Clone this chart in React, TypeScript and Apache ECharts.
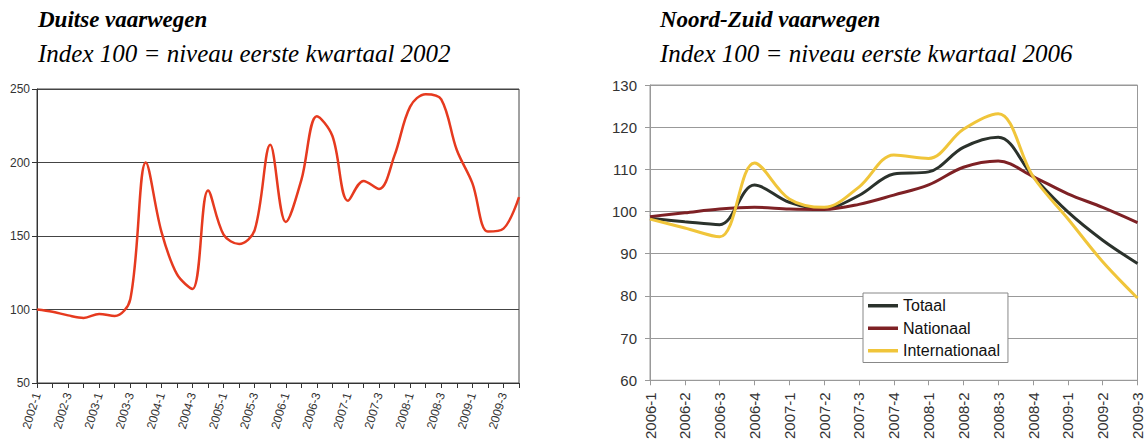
import { useEffect, useRef } from "react";
import * as echarts from "echarts";

const leftCategories = [
  "2002-1", "2002-2", "2002-3", "2002-4",
  "2003-1", "2003-2", "2003-3", "2003-4",
  "2004-1", "2004-2", "2004-3", "2004-4",
  "2005-1", "2005-2", "2005-3", "2005-4",
  "2006-1", "2006-2", "2006-3", "2006-4",
  "2007-1", "2007-2", "2007-3", "2007-4",
  "2008-1", "2008-2", "2008-3", "2008-4",
  "2009-1", "2009-2", "2009-3", "2009-4",
];
const duitseValues = [
  100, 98.5, 96, 94.3, 97, 95.5, 107, 200,
  153, 124, 114, 181, 151, 144.5, 154, 212,
  159.5, 188, 231.5, 218, 174, 187.5, 182, 205,
  238, 246.5, 243, 208.5, 186, 153, 155, 176.5,
];

const rightCategories = [
  "2006-1", "2006-2", "2006-3", "2006-4",
  "2007-1", "2007-2", "2007-3", "2007-4",
  "2008-1", "2008-2", "2008-3", "2008-4",
  "2009-1", "2009-2", "2009-3",
];
const totaal = [98.4, 97.6, 96.9, 106.3, 102.2, 100.7, 103.8, 108.9, 109.4, 115.2, 117.6, 108.3, 99.9, 93.2, 87.7];
const nationaal = [98.8, 99.7, 100.6, 101.0, 100.6, 100.5, 101.7, 103.9, 106.3, 110.5, 112.0, 108.3, 104.2, 101.0, 97.4];
const internationaal = [98.2, 96.1, 94.0, 111.5, 103.0, 101.0, 105.8, 113.4, 112.6, 119.5, 123.2, 108.3, 98.3, 88.1, 79.5];

const leftYTicks = { min: 50, max: 250, interval: 50 };
const rightYTicks = { min: 60, max: 130, interval: 10 };

export default function App() {
  const ref = useRef<HTMLDivElement>(null);
  useEffect(() => {
    const chart = echarts.init(ref.current!, null, { renderer: "svg" });
    const sans = "Liberation Sans";
    chart.setOption({
      animation: false,
      backgroundColor: "#fff",
      graphic: [
        { type: "text", left: 38, top: 8, style: { text: "Duitse vaarwegen", font: 'italic bold 23px "Liberation Serif"', fill: "#000" } },
        { type: "text", left: 38, top: 41, style: { text: "Index 100 = niveau eerste kwartaal 2002", font: 'italic 25px "Liberation Serif"', fill: "#000" } },
        { type: "text", left: 660, top: 8, style: { text: "Noord-Zuid vaarwegen", font: 'italic bold 23px "Liberation Serif"', fill: "#000" } },
        { type: "text", left: 660, top: 41, style: { text: "Index 100 = niveau eerste kwartaal 2006", font: 'italic 25px "Liberation Serif"', fill: "#000" } },
      ],
      legend: {
        data: ["Totaal", "Nationaal", "Internationaal"],
        orient: "vertical",
        left: 863,
        top: 293,
        icon: "rect",
        itemWidth: 30,
        itemHeight: 3.5,
        itemGap: 5,
        padding: [4, 8, 3, 5],
        backgroundColor: "#fff",
        borderColor: "#888",
        borderWidth: 1,
        selectedMode: false,
        textStyle: { fontSize: 16, color: "#111", fontFamily: sans, lineHeight: 17.5 },
      },
      grid: [
        { left: 37, top: 89, width: 482, height: 294, show: true, borderColor: "#444", borderWidth: 1 },
        { left: 650, top: 85, width: 488, height: 298, show: true, borderColor: "#999", borderWidth: 1 },
      ],
      xAxis: [
        {
          type: "category",
          gridIndex: 0,
          data: leftCategories,
          boundaryGap: false,
          axisLine: { lineStyle: { color: "#333", width: 1 } },
          axisTick: { interval: 0, length: 5, lineStyle: { color: "#333" } },
          axisLabel: { interval: 1, rotate: 73, fontSize: 12, color: "#333", fontFamily: sans, margin: 10 },
          splitLine: { show: false },
        },
        {
          type: "category",
          gridIndex: 1,
          data: rightCategories,
          boundaryGap: false,
          axisLine: { lineStyle: { color: "#999", width: 1 } },
          axisTick: { interval: 0, length: 5, lineStyle: { color: "#999" } },
          axisLabel: { interval: 0, rotate: 90, fontSize: 15, color: "#333", fontFamily: sans, margin: 12 },
          splitLine: { show: false },
        },
      ],
      yAxis: [
        {
          type: "value",
          gridIndex: 0,
          ...leftYTicks,
          axisLine: { show: true, lineStyle: { color: "#333" } },
          axisTick: { show: true, length: 5, lineStyle: { color: "#333" } },
          axisLabel: { fontSize: 12, color: "#333", fontFamily: sans, margin: 7 },
          splitLine: { lineStyle: { color: "#444", width: 1 } },
        },
        {
          type: "value",
          gridIndex: 1,
          ...rightYTicks,
          axisLine: { show: true, lineStyle: { color: "#999" } },
          axisTick: { show: true, length: 5, lineStyle: { color: "#999" } },
          axisLabel: { fontSize: 15, color: "#333", fontFamily: sans, margin: 13 },
          splitLine: { lineStyle: { color: "#999", width: 1 } },
        },
      ],
      series: [
        {
          name: "Duitse vaarwegen",
          type: "line",
          xAxisIndex: 0,
          yAxisIndex: 0,
          data: duitseValues,
          smooth: 0.35,
          symbol: "none",
          lineStyle: { color: "#e63a1f", width: 2.5 },
          itemStyle: { color: "#e63a1f" },
        },
        {
          name: "Totaal",
          type: "line",
          xAxisIndex: 1,
          yAxisIndex: 1,
          data: totaal,
          smooth: 0.35,
          symbol: "none",
          lineStyle: { color: "#2b322c", width: 3 },
          itemStyle: { color: "#2b322c" },
        },
        {
          name: "Nationaal",
          type: "line",
          xAxisIndex: 1,
          yAxisIndex: 1,
          data: nationaal,
          smooth: 0.35,
          symbol: "none",
          lineStyle: { color: "#7e2125", width: 3 },
          itemStyle: { color: "#7e2125" },
        },
        {
          name: "Internationaal",
          type: "line",
          xAxisIndex: 1,
          yAxisIndex: 1,
          data: internationaal,
          smooth: 0.35,
          symbol: "none",
          lineStyle: { color: "#f0c53a", width: 3 },
          itemStyle: { color: "#f0c53a" },
        },
      ],
    });
    return () => chart.dispose();
  }, []);
  return (
    <div
      ref={ref}
      style={{ position: "absolute", left: 0, top: 0, width: 1145, height: 442, background: "#fff" }}
    />
  );
}
